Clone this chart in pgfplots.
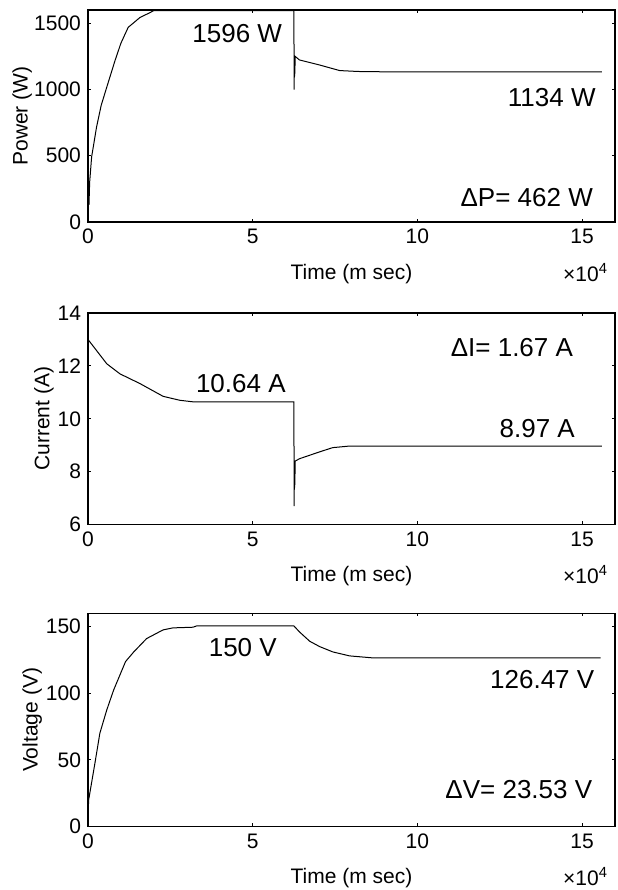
\documentclass[border=0pt]{standalone}
\usepackage{fontspec}
\setmainfont{Liberation Sans}
\usepackage{pgfplots}
\pgfplotsset{compat=1.18}

\pgfplotsset{
  mlab/.style={
    scale only axis, width=263.5pt, anchor=north west,
    xmin=0, xmax=16, xtick={0,5,10,15},
    tick align=inside, major tick length=1.6pt,
    axis line style={line width=0.6pt}, every tick/.style={black, line width=0.5pt},
    /pgf/number format/assume math mode=true,
    /pgf/number format/1000 sep={},
    tick label style={font=\fontsize{10.5}{12}\selectfont},
    label style={font=\fontsize{10.5}{12}\selectfont},
    xlabel={Time (m sec)},
    xlabel style={at={(axis description cs:0.5,0)}, anchor=base, yshift=-28.5pt},
    clip=false,
  },
}
\tikzset{ann/.style={font=\fontsize{13}{15}\selectfont, anchor=center},
  sc/.style={anchor=base east, font=\fontsize{10.5}{12}\selectfont}}

\begin{document}
\begin{tikzpicture}
\useasboundingbox (0,0) rectangle (308.5pt,-445pt);

% ---- Power
\begin{axis}[mlab, at={(44pt,-5pt)}, height=106pt,
  ymin=0, ymax=1600, ytick={0,500,1000,1500},
  ylabel={Power (W)},
  ylabel style={at={(axis description cs:-0.125,0.5)}, anchor=center, rotate=0}]
\addplot[black, line width=0.5pt] coordinates {
  (0,100) (0.01,110) (0.02,270) (0.03,130) (0.05,300) (0.11,491) (0.26,717)
  (0.4,880) (0.57,1018) (0.82,1218) (1.0,1350) (1.22,1469) (1.58,1544)
  (1.88,1580) (2.0,1596) (6.25,1596) (6.26,1000) (6.265,1250) (6.27,1100)
  (6.275,1240) (6.28,1120) (6.29,1250) (6.42,1223) (7.03,1185) (7.64,1143)
  (8.2,1136) (8.85,1134) (15.6,1134)};
\node[ann] at (axis cs:4.53,1421) {1596 W};
\node[ann] at (axis cs:14.08,940) {1134 W};
\node[ann] at (axis cs:13.32,188) {ΔP= 462 W};
\node[sc, yshift=-29.5pt] at (rel axis cs:1,0) {×10\textsuperscript{4}};
\end{axis}

% ---- Current
\begin{axis}[mlab, at={(44pt,-156.5pt)}, height=105.8pt,
  ymin=6, ymax=14, ytick={6,8,10,12,14},
  ylabel={Current (A)},
  ylabel style={at={(axis description cs:-0.0835,0.5)}, anchor=center, rotate=0}]
\addplot[black, line width=0.5pt] coordinates {
  (0,13) (0.57,12.08) (0.97,11.7) (1.58,11.33) (2.28,10.85) (2.79,10.7)
  (3.2,10.64) (6.25,10.64) (6.26,6.7) (6.265,8.4) (6.27,7.4) (6.275,8.3)
  (6.28,7.5) (6.29,8.4) (6.42,8.49) (7.03,8.75) (7.43,8.91) (7.94,8.97)
  (15.6,8.97)};
\node[ann] at (axis cs:4.64,11.34) {10.64 A};
\node[ann] at (axis cs:12.87,12.71) {ΔI= 1.67 A};
\node[ann] at (axis cs:13.64,9.64) {8.97 A};
\node[sc, yshift=-29.5pt] at (rel axis cs:1,0) {×10\textsuperscript{4}};
\end{axis}

% ---- Voltage
\begin{axis}[mlab, at={(44pt,-306.6pt)}, height=106.7pt,
  ymin=0, ymax=160, ytick={0,50,100,150},
  ylabel={Voltage (V)},
  ylabel style={at={(axis description cs:-0.106,0.5)}, anchor=center, rotate=0}]
\addplot[black, line width=0.5pt] coordinates {
  (0,7.5) (0.02,20) (0.21,47.5) (0.36,70) (0.57,87.5) (0.78,102.5)
  (1.14,123.75) (1.39,131) (1.78,141) (2.28,147.5) (2.58,149) (3.19,149.5)
  (3.3,150.5) (6.25,150.5) (6.42,146) (6.73,139) (7.03,135) (7.43,131)
  (7.94,128) (8.6,126.6) (15.56,126.47)};
\node[ann] at (axis cs:4.70,134) {150 V};
\node[ann] at (axis cs:13.79,110) {126.47 V};
\node[ann] at (axis cs:13.08,27.5) {ΔV= 23.53 V};
\node[sc, yshift=-29.5pt] at (rel axis cs:1,0) {×10\textsuperscript{4}};
\end{axis}
\end{tikzpicture}
\end{document}
